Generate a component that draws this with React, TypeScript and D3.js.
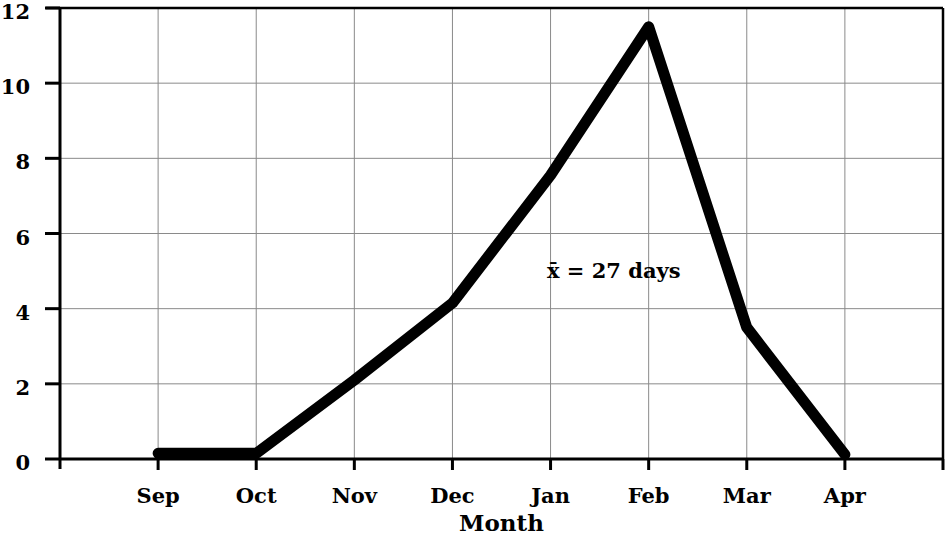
import React from "react";
import * as d3 from "d3";

const months = ["Sep", "Oct", "Nov", "Dec", "Jan", "Feb", "Mar", "Apr"];
const values = [0.15, 0.15, 2.1, 4.15, 7.55, 11.5, 3.5, 0.12];
const yTicks = [0, 2, 4, 6, 8, 10, 12];
const annotation = "x\u0304 = 27 days";
const xTitle = "Month";

export default function App() {
  const W = 945, H = 536;
  const left = 60, right = 943, top = 8, bottom = 459;
  const x = d3.scaleLinear().domain([-1, months.length]).range([left, right]);
  const y = d3.scaleLinear().domain([0, 12]).range([bottom, top]);
  const line = d3.line<number>().x((_, i) => x(i)).y((d) => y(d));
  const font = "'DejaVu Serif', serif";
  const gridX = d3.range(0, months.length + 1);
  return (
    <svg width={W} height={H} style={{ position: "absolute", left: 0, top: 0, background: "#fff" }}>
      <rect x={0} y={0} width={W} height={H} fill="#fff" />
      {yTicks.slice(1, -1).map((t) => (
        <line key={"gy" + t} x1={left} x2={right} y1={y(t)} y2={y(t)} stroke="#8a8a8a" strokeWidth={1} />
      ))}
      {gridX.map((i) => (
        <line key={"gx" + i} x1={x(i)} x2={x(i)} y1={top} y2={bottom} stroke="#8a8a8a" strokeWidth={1} />
      ))}
      <line x1={46} x2={right} y1={top} y2={top} stroke="#000" strokeWidth={2.5} />
      <line x1={right} x2={right} y1={top} y2={bottom} stroke="#000" strokeWidth={2.5} />
      <line x1={left} x2={left} y1={top} y2={bottom + 10} stroke="#000" strokeWidth={3} />
      <line x1={left} x2={right} y1={bottom} y2={bottom} stroke="#000" strokeWidth={3} />
      {yTicks.map((t) => (
        <g key={"yt" + t}>
          <line x1={45} x2={left} y1={y(t)} y2={y(t)} stroke="#000" strokeWidth={3} />
          <text x={30} y={y(t) + 11} textAnchor="end" fontFamily={font} fontWeight="bold" fontSize={21} fill="#000">
            {t}
          </text>
        </g>
      ))}
      {months.map((m, i) => (
        <g key={m}>
          <line x1={x(i)} x2={x(i)} y1={bottom} y2={bottom + 11} stroke="#000" strokeWidth={3} />
          <text x={x(i)} y={503} textAnchor="middle" fontFamily={font} fontWeight="bold" fontSize={21} fill="#000">
            {m}
          </text>
        </g>
      ))}
      <line x1={x(months.length)} x2={x(months.length)} y1={bottom} y2={bottom + 11} stroke="#000" strokeWidth={3} />
      <text x={x(3.5)} y={531} textAnchor="middle" fontFamily={font} fontWeight="bold" fontSize={23} fill="#000">
        {xTitle}
      </text>
      <path d={line(values) || ""} fill="none" stroke="#000" strokeWidth={11} strokeLinejoin="round" strokeLinecap="round" />
      <text x={547} y={278} fontFamily={font} fontWeight="bold" fontSize={21} fill="#000">
        {annotation}
      </text>
    </svg>
  );
}
